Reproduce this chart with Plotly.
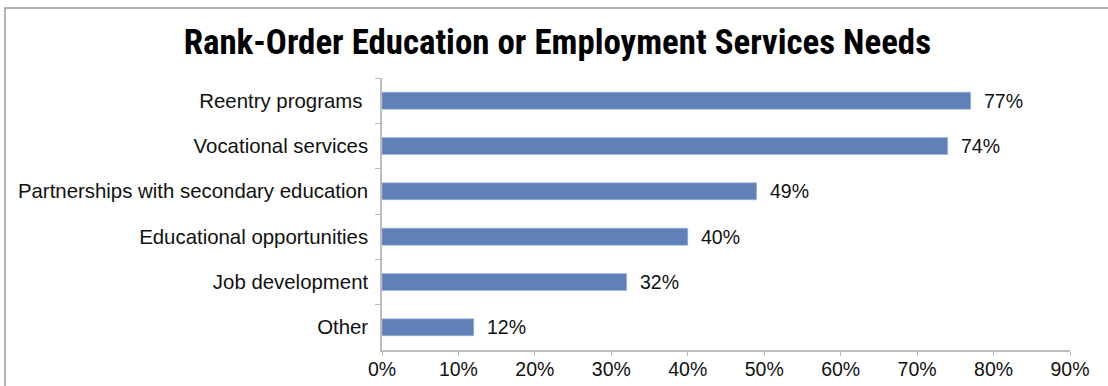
import plotly.graph_objects as go

# Survey results: share of respondents ranking each service as a need
categories = [
    "Reentry programs ",
    "Vocational services",
    "Partnerships with secondary education",
    "Educational opportunities",
    "Job development",
    "Other",
]
values = [77, 74, 49, 40, 32, 12]
tick_values = [0, 10, 20, 30, 40, 50, 60, 70, 80, 90]
tick_labels = [f"{v}%" for v in tick_values]
value_labels = [f"{v}%" for v in values]

BAR_COLOR = "#5f81b7"
AXIS_COLOR = "#bdbdbd"
TEXT_FONT = "Liberation Sans, Arial, Helvetica, sans-serif"

fig = go.Figure(
    go.Bar(
        x=values,
        y=categories,
        orientation="h",
        marker=dict(color=BAR_COLOR, line=dict(color="#9fb3d6", width=0.6)),
        width=0.375,
        hoverinfo="skip",
    )
)

# value labels just past the end of each bar
for cat, val, lab in zip(categories, values, value_labels):
    fig.add_annotation(
        x=val, y=cat, text=lab, showarrow=False,
        xanchor="left", xshift=11,
        font=dict(family=TEXT_FONT, size=19.5, color="#111111"),
    )

# outer frame of the chart
fig.add_shape(
    type="rect", xref="paper", yref="paper",
    x0=(5 - 382) / 688, x1=1.2, y0=-0.3, y1=(350 - 8) / 272,
    line=dict(color="#9a9a9a", width=1.5), fillcolor="rgba(0,0,0,0)",
    layer="below",
)

fig.update_layout(
    width=1108,
    height=386,
    margin=dict(l=382, r=38, t=78, b=36),
    paper_bgcolor="white",
    plot_bgcolor="white",
    showlegend=False,
    title=dict(
        text="<b>Rank-Order Education or Employment Services Needs</b>",
        x=0.503, xanchor="center", y=0.893, yanchor="middle",
        font=dict(family="Liberation Sans Narrow, Roboto Condensed, Roboto, sans-serif",
                  size=34.9, color="#000000"),
    ),
    xaxis=dict(
        range=[0, 90],
        tickvals=tick_values,
        ticktext=tick_labels,
        showgrid=False,
        zeroline=False,
        showline=True,
        linecolor=AXIS_COLOR,
        linewidth=1.5,
        ticks="outside",
        ticklen=4,
        tickcolor=AXIS_COLOR,
        tickwidth=1.2,
        ticklabelstandoff=-3,
        automargin=False,
        tickfont=dict(family=TEXT_FONT, size=19.5, color="#111111"),
        fixedrange=True,
    ),
    yaxis=dict(
        autorange="reversed",
        showgrid=False,
        zeroline=False,
        showline=True,
        linecolor=AXIS_COLOR,
        linewidth=1.5,
        ticks="outside",
        ticklen=5,
        tickcolor=AXIS_COLOR,
        tickwidth=1.2,
        tickson="boundaries",
        ticklabelstandoff=8,
        automargin=False,
        tickfont=dict(family=TEXT_FONT, size=20.4, color="#111111"),
        fixedrange=True,
    ),
)

fig.write_html("out.html")
